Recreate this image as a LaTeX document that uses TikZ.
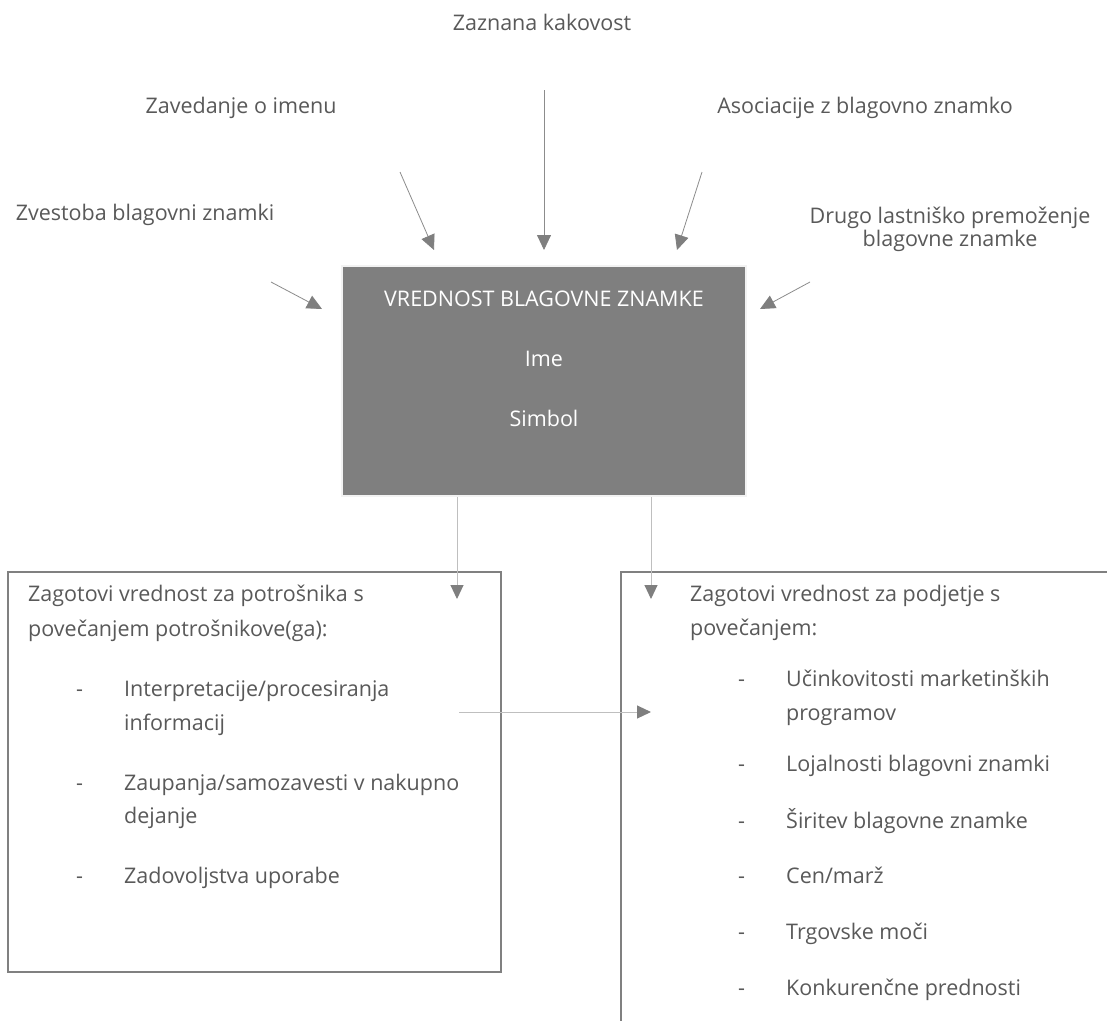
\documentclass[tikz,border=0pt]{standalone}
\usepackage{fontspec}
\setmainfont{Open Sans}
\usetikzlibrary{arrows.meta}
\definecolor{txt}{HTML}{595959}
\definecolor{boxfill}{HTML}{7F7F7F}
\definecolor{headc}{HTML}{7F7F7F}
\definecolor{linec}{HTML}{8C8C8C}
\definecolor{lightline}{HTML}{BFBFBF}
\definecolor{edge}{HTML}{808080}
\definecolor{rim}{HTML}{F2F2F2}
\begin{document}
\begin{tikzpicture}[x=1pt,y=-1pt,
  lbl/.style={font=\fontsize{21.5}{23}\selectfont, text=txt, inner sep=0pt},
  ltxt/.style={lbl, anchor=west, text height=0.72em, text depth=0pt},
  ctxt/.style={lbl, anchor=center, text height=0.72em, text depth=0pt},
  wtxt/.style={ctxt, text=white},
  inarrow/.style={draw=linec, line width=0.8pt, -{Triangle[length=15pt,width=14pt,color=headc]}},
  outarrow/.style={draw=lightline, line width=1pt, -{Triangle[length=14pt,width=13pt,color=headc]}},
  panel/.style={draw=edge, line width=1.5pt}
]
\fill[white] (0,0) rectangle (1107,1020);
\useasboundingbox (0,0) rectangle (1107,1020);

% top labels
\node[ctxt] (zk) at (542,27) {Zaznana kakovost};
\node[ctxt] (zi) at (241,110) {Zavedanje o imenu};
\node[ctxt] (az) at (865,110) {Asociacije z blagovno znamko};
\node[ctxt] (zb) at (145,217) {Zvestoba blagovni znamki};
\node[lbl, align=center, anchor=center] (dl) at (950,229) {Drugo lastniško premoženje\\blagovne znamke};

% central box
\node[fill=boxfill, draw=rim, line width=2.5pt, minimum width=404pt, minimum height=230pt, inner sep=0pt] (vb) at (544,381) {};
\node[wtxt] (vbt) at (544,303) {VREDNOST BLAGOVNE ZNAMKE};
\node[wtxt] (ime) at (544,363) {Ime};
\node[wtxt] (sim) at (544,423) {Simbol};

% incoming arrows
\coordinate (s1) at (544,90);  \coordinate (t1) at (544,250);
\coordinate (s2) at (400,172); \coordinate (t2) at (434,250);
\coordinate (s3) at (702,172); \coordinate (t3) at (677,250);
\coordinate (s4) at (271,282); \coordinate (t4) at (322,309);
\coordinate (s5) at (810,282); \coordinate (t5) at (760,309);
\draw[inarrow] (s1) -- (t1);
\draw[inarrow] (s2) -- (t2);
\draw[inarrow] (s3) -- (t3);
\draw[inarrow] (s4) -- (t4);
\draw[inarrow] (s5) -- (t5);

% lower panels
\draw[panel] (8,572) rectangle (501,972);
\draw[panel] (621,1021) -- (621,572) -- (1108,572);

% outgoing arrows
\coordinate (d1) at (457,599);
\coordinate (d2) at (651,599);
\draw[outarrow] (vb.south -| d1) -- (d1);
\draw[outarrow] (vb.south -| d2) -- (d2);
\coordinate (h1) at (459,712);
\coordinate (h2) at (651,712);
\draw[outarrow] (h1) -- (h2);

% left panel text
\node[ltxt] (l1) at (28,598) {Zagotovi vrednost za potrošnika s};
\node[ltxt] (l2) at (28,633) {povečanjem potrošnikove(ga):};
\node[ltxt] (ld1) at (76,693) {-};
\node[ltxt] (li1) at (124,693) {Interpretacije/procesiranja};
\node[ltxt] (li1b) at (124,727) {informacij};
\node[ltxt] (ld2) at (76,787) {-};
\node[ltxt] (li2) at (124,787) {Zaupanja/samozavesti v nakupno};
\node[ltxt] (li2b) at (124,820) {dejanje};
\node[ltxt] (ld3) at (76,880) {-};
\node[ltxt] (li3) at (124,880) {Zadovoljstva uporabe};

% right panel text
\node[ltxt] (r1) at (690,598) {Zagotovi vrednost za podjetje s};
\node[ltxt] (r2) at (690,632) {povečanjem:};
\node[ltxt] (rd1) at (738,683) {-};
\node[ltxt] (ri1) at (786,683) {Učinkovitosti marketinških};
\node[ltxt] (ri1b) at (786,717) {programov};
\node[ltxt] (rd2) at (738,768) {-};
\node[ltxt] (ri2) at (786,768) {Lojalnosti blagovni znamki};
\node[ltxt] (rd3) at (738,825) {-};
\node[ltxt] (ri3) at (786,825) {Širitev blagovne znamke};
\node[ltxt] (rd4) at (738,880) {-};
\node[ltxt] (ri4) at (786,880) {Cen/marž};
\node[ltxt] (rd5) at (738,936) {-};
\node[ltxt] (ri5) at (786,936) {Trgovske moči};
\node[ltxt] (rd6) at (738,992) {-};
\node[ltxt] (ri6) at (786,992) {Konkurenčne prednosti};
\end{tikzpicture}
\end{document}
